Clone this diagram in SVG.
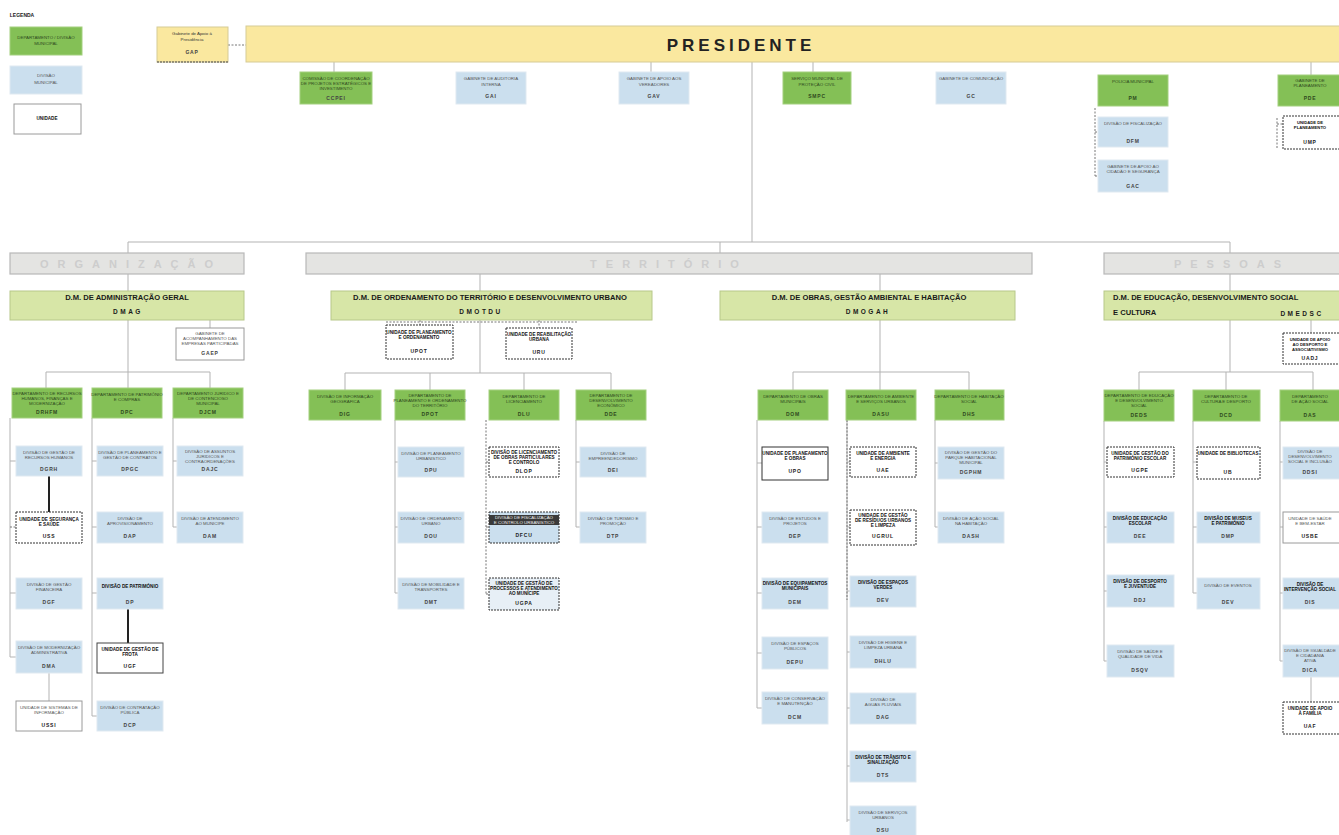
<svg xmlns="http://www.w3.org/2000/svg" width="1339" height="835" viewBox="0 0 1339 835">
<style>
.g{fill:#84c056;stroke:#a3d07e;stroke-width:1}
.b{fill:#cbdfee;stroke:#dfe9f1;stroke-width:1}
.w{fill:#fff;stroke:#9a9a9a;stroke-width:1}
.wd{fill:#fff;stroke:#333;stroke-width:1;stroke-dasharray:2,1}
.y{fill:#fae89f;stroke:#d6cb96;stroke-width:1}
.s{fill:#e4e4e2;stroke:#b8b8b8;stroke-width:1.2}
.d{fill:#d7e6a7;stroke:#b7c88a;stroke-width:1}
text{font-family:"Liberation Sans",Arial,sans-serif;text-anchor:middle}
.t{font-size:4.4px;fill:#555}
.tg{font-size:4.4px;fill:#2f4a20}
.c{font-size:5px;fill:#444;font-weight:bold;letter-spacing:0.8px}
.tb{font-size:4.6px;fill:#111;font-weight:bold}
.sec{font-size:11px;fill:#cdcdcd;font-weight:bold;letter-spacing:9px}
.dt{font-size:7.6px;fill:#1a1a1a;font-weight:bold}
.dc{font-size:6.5px;fill:#1a1a1a;font-weight:bold;letter-spacing:2.5px}
.ln{fill:none;stroke:#b3b3b3;stroke-width:1}
.ld{fill:none;stroke:#777;stroke-width:1;stroke-dasharray:2,1.5}
.lk{fill:none;stroke:#222;stroke-width:2}
</style>

<g id="connectors">
<path class="ld" d="M228 45H246"/>
<path class="ln" d="M334 62V72M651 62V72M813 62V72M1311 62V75M752 62V242"/>
<path class="ld" d="M1095 108V176M1095 132H1098M1095 176H1098M1277 118V148M1277 124H1283"/>
<path class="ln" d="M128 242H1230M128 242V253M720 242V253M1230 242V253"/>
<path class="ln" d="M128 274V291M480 274V291M880 274V291M1230 274V291"/>
<path class="ln" d="M210 320V328M128 320V372M46 372H210M46 372V388M128 372V388M210 372V388"/>
<path class="ln" d="M10 418V657M10 461H16M10 593H16M10 657H16M49 673V701"/>
<path class="ld" d="M10 527H16"/>
<path class="lk" d="M49 476V512M128 609V643"/>
<path class="ln" d="M92 418V716M92 461H97M92 527H97M92 593H97M92 716H97"/>
<path class="ln" d="M173 418V527M173 461H177M173 527H177"/>
<path class="ln" d="M480 320V373M345 373H611M345 373V390M430 373V390M524 373V390M611 373V390"/>
<path class="ld" d="M386 322H578M420 320V325M539 320V328"/>
<path class="ln" d="M395 420V593M395 462H398M395 527H398M395 593H398"/>
<path class="ld" d="M486 420V594M486 462H489M486 527H489M486 594H489"/>
<path class="ln" d="M576 420V527M576 462H580M576 527H580"/>
<path class="ln" d="M880 320V390M793 372H969M793 372V390M969 372V390"/>
<path class="ln" d="M757 420V708M757 463H762M757 527H762M757 593H762M757 653H762M757 708H762"/>
<path class="ln" d="M847 420V822M847 462H850M847 527H850M847 591H850M847 652H850M847 708H850M847 766H850M847 820H850"/>
<path class="ld" d="M847 420V600"/>
<path class="ln" d="M935 420V527M935 463H938M935 527H938"/>
<path class="ln" d="M1230 320V372M1139 372H1313M1139 372V390M1226 372V390M1313 372V390M1311 320V333"/>
<path class="ln" d="M1104 421V661M1104 462H1107M1104 527H1107M1104 591H1107M1104 661H1107"/>
<path class="ln" d="M1193 421V593M1193 462H1197M1193 527H1197M1193 593H1197"/>
<path class="ln" d="M1280 421V661M1280 462H1283M1280 527H1283M1280 593H1283M1280 661H1283M1311 677V702"/>
</g>

<g id="legenda">
<text x="22" y="17" style="font-size:5px;font-weight:bold;fill:#222">LEGENDA</text>
<rect class="g" x="10" y="27" width="72" height="28"/>
<text class="tg" x="46" y="39">DEPARTAMENTO / DIVISÃO</text><text class="tg" x="46" y="45">MUNICIPAL</text>
<rect class="b" x="10" y="66" width="72" height="28"/>
<text class="t" x="46" y="77">DIVISÃO</text><text class="t" x="46" y="84">MUNICIPAL</text>
<rect class="w" x="14" y="104" width="67" height="30"/>
<text class="tb" x="47" y="120">UNIDADE</text>
</g>

<g id="gap">
<rect class="y" x="157" y="27" width="71" height="35"/>
<path d="M157 62H228" stroke="#444" stroke-dasharray="2,1" fill="none"/>
<text class="t" x="192" y="35" style="fill:#333">Gabinete de Apoio à</text>
<text class="t" x="192" y="41" style="fill:#333">Presidência</text>
<text class="c" x="192" y="54">GAP</text>
</g>

<g id="presidente">
<rect class="y" x="246" y="26" width="1100" height="36"/>
<text x="741" y="51" style="font-size:17px;font-weight:bold;fill:#222;letter-spacing:4px">PRESIDENTE</text>
</g>

<g id="r1"><rect class="g" x="300" y="72" width="72" height="32"/><text class="tg" x="336" y="80">COMISSÃO DE COORDENAÇÃO</text><text class="tg" x="336" y="85">DE PROJETOS ESTRATÉGICOS E</text><text class="tg" x="336" y="90">INVESTIMENTO</text><text class="c" x="336" y="100">CCPEI</text></g>
<g id="r2"><rect class="b" x="456" y="72" width="70" height="32"/><text class="t" x="491" y="80">GABINETE DE AUDITORIA</text><text class="t" x="491" y="86">INTERNA</text><text class="c" x="491" y="98">GAI</text></g>
<g id="r3"><rect class="b" x="619" y="72" width="70" height="32"/><text class="t" x="654" y="80">GABINETE DE APOIO AOS</text><text class="t" x="654" y="86">VEREADORES</text><text class="c" x="654" y="98">GAV</text></g>
<g id="r4"><rect class="g" x="783" y="72" width="68" height="32"/><text class="tg" x="817" y="80">SERVIÇO MUNICIPAL DE</text><text class="tg" x="817" y="86">PROTEÇÃO CIVIL</text><text class="c" x="817" y="98" style="fill:#2f4a20">SMPC</text></g>
<g id="r5"><rect class="b" x="936" y="72" width="70" height="32"/><text class="t" x="971" y="80">GABINETE DE COMUNICAÇÃO</text><text class="c" x="971" y="98">GC</text></g>
<g id="r6"><rect class="g" x="1098" y="75" width="70" height="31"/><text class="tg" x="1133" y="83">POLÍCIA MUNICIPAL</text><text class="c" x="1133" y="100" style="fill:#2f4a20">PM</text></g>
<g id="r6a"><rect class="b" x="1098" y="117" width="70" height="30"/><text class="t" x="1133" y="125">DIVISÃO DE FISCALIZAÇÃO</text><text class="c" x="1133" y="143">DFM</text></g>
<g id="r6b"><rect class="b" x="1098" y="160" width="70" height="32"/><text class="t" x="1133" y="168">GABINETE DE APOIO AO</text><text class="t" x="1133" y="173">CIDADÃO E SEGURANÇA</text><text class="c" x="1133" y="188">GAC</text></g>
<g id="r7"><rect class="g" x="1278" y="75" width="70" height="31"/><text class="tg" x="1310" y="82">GABINETE DE</text><text class="tg" x="1310" y="87">PLANEAMENTO</text><text class="c" x="1310" y="100" style="fill:#2f4a20">PDE</text></g>
<g id="r7a"><rect class="wd" x="1283" y="116" width="60" height="33"/><text class="tb" x="1310" y="124" style="font-size:4.2px">UNIDADE DE</text><text class="tb" x="1310" y="129" style="font-size:4.2px">PLANEAMENTO</text><text class="c" x="1310" y="144" style="fill:#222">UMP</text></g>

<g id="sec-organizacao"><rect class="s" x="10" y="253" width="234" height="21"/><text class="sec" x="131" y="268">ORGANIZAÇÃO</text></g>
<g id="sec-territorio"><rect class="s" x="306" y="253" width="726" height="21"/><text class="sec" x="669" y="268">TERRITÓRIO</text></g>
<g id="sec-pessoas"><rect class="s" x="1104" y="253" width="245" height="21"/><text class="sec" x="1232" y="268">PESSOAS</text></g>

<g id="dmag"><rect class="d" x="10" y="291" width="234" height="29"/><text class="dt" x="127" y="300">D.M. DE ADMINISTRAÇÃO GERAL</text><text class="dc" x="128" y="314">DMAG</text></g>
<g id="dmotdu"><rect class="d" x="331" y="291" width="321" height="29"/><text class="dt" x="490" y="300">D.M. DE ORDENAMENTO DO TERRITÓRIO E DESENVOLVIMENTO URBANO</text><text class="dc" x="481" y="314">DMOTDU</text></g>
<g id="dmogah"><rect class="d" x="720" y="291" width="295" height="29"/><text class="dt" x="869" y="300">D.M. DE OBRAS, GESTÃO AMBIENTAL E HABITAÇÃO</text><text class="dc" x="868" y="314">DMOGAH</text></g>
<g id="dmedsc"><rect class="d" x="1104" y="291" width="245" height="29"/><text class="dt" x="1113" y="300" style="text-anchor:start">D.M. DE EDUCAÇÃO, DESENVOLVIMENTO SOCIAL</text><text class="dt" x="1113" y="315" style="text-anchor:start">E CULTURA</text><text class="dc" x="1302" y="316">DMEDSC</text></g>

<g id="gaep"><rect class="w" x="176" y="328" width="68" height="32"/><text class="t" x="210" y="335">GABINETE DE</text><text class="t" x="210" y="340">ACOMPANHAMENTO DAS</text><text class="t" x="210" y="345">EMPRESAS PARTICIPADAS</text><text class="c" x="210" y="355">GAEP</text></g>
<g id="drhfm"><rect class="g" x="12" y="388" width="70" height="30"/><text class="tg" x="47" y="395">DEPARTAMENTO DE RECURSOS</text><text class="tg" x="47" y="400">HUMANOS, FINANÇAS E</text><text class="tg" x="47" y="405">MODERNIZAÇÃO</text><text class="c" x="47" y="414" style="fill:#2f4a20">DRHFM</text></g>
<g id="dpc"><rect class="g" x="92" y="388" width="70" height="30"/><text class="tg" x="127" y="396">DEPARTAMENTO DE PATRIMÓNIO</text><text class="tg" x="127" y="401">E COMPRAS</text><text class="c" x="127" y="414" style="fill:#2f4a20">DPC</text></g>
<g id="djc"><rect class="g" x="173" y="388" width="70" height="30"/><text class="tg" x="208" y="395">DEPARTAMENTO JURÍDICO E</text><text class="tg" x="208" y="400">DE CONTENCIOSO</text><text class="tg" x="208" y="405">MUNICIPAL</text><text class="c" x="208" y="414" style="fill:#2f4a20">DJCM</text></g>
<g id="dgrh"><rect class="b" x="16" y="446" width="66" height="30"/><text class="t" x="49" y="454">DIVISÃO DE GESTÃO DE</text><text class="t" x="49" y="459">RECURSOS HUMANOS</text><text class="c" x="49" y="471">DGRH</text></g>
<g id="usst"><rect class="wd" x="16" y="512" width="66" height="31"/><text class="tb" x="49" y="521">UNIDADE DE SEGURANÇA</text><text class="tb" x="49" y="526">E SAÚDE</text><text class="c" x="49" y="538" style="fill:#222">USS</text></g>
<g id="dgf"><rect class="b" x="16" y="578" width="66" height="31"/><text class="t" x="49" y="586">DIVISÃO DE GESTÃO</text><text class="t" x="49" y="591">FINANCEIRA</text><text class="c" x="49" y="604">DGF</text></g>
<g id="dma"><rect class="b" x="16" y="641" width="66" height="32"/><text class="t" x="49" y="649">DIVISÃO DE MODERNIZAÇÃO</text><text class="t" x="49" y="654">ADMINISTRATIVA</text><text class="c" x="49" y="668">DMA</text></g>
<g id="ussi"><rect class="w" x="16" y="701" width="66" height="30"/><text class="t" x="49" y="709">UNIDADE DE SISTEMAS DE</text><text class="t" x="49" y="714">INFORMAÇÃO</text><text class="c" x="49" y="727" style="fill:#222">USSI</text></g>
<g id="dpgc"><rect class="b" x="97" y="446" width="66" height="30"/><text class="t" x="130" y="454">DIVISÃO DE PLANEAMENTO E</text><text class="t" x="130" y="459">GESTÃO DE CONTRATOS</text><text class="c" x="130" y="471">DPGC</text></g>
<g id="dap"><rect class="b" x="97" y="512" width="66" height="31"/><text class="t" x="130" y="520">DIVISÃO DE</text><text class="t" x="130" y="525">APROVISIONAMENTO</text><text class="c" x="130" y="538">DAP</text></g>
<g id="dp"><rect class="b" x="97" y="578" width="66" height="31"/><text class="tb" x="130" y="588">DIVISÃO DE PATRIMÓNIO</text><text class="c" x="130" y="604">DP</text></g>
<g id="ugf"><rect class="w" x="97" y="643" width="66" height="30" style="stroke:#444"/><text class="tb" x="130" y="651">UNIDADE DE GESTÃO DE</text><text class="tb" x="130" y="656">FROTA</text><text class="c" x="130" y="668" style="fill:#222">UGF</text></g>
<g id="dcp"><rect class="b" x="97" y="701" width="66" height="30"/><text class="t" x="130" y="709">DIVISÃO DE CONTRATAÇÃO</text><text class="t" x="130" y="714">PÚBLICA</text><text class="c" x="130" y="727">DCP</text></g>
<g id="dajc"><rect class="b" x="177" y="446" width="66" height="30"/><text class="t" x="210" y="453">DIVISÃO DE ASSUNTOS</text><text class="t" x="210" y="458">JURÍDICOS E</text><text class="t" x="210" y="463">CONTRAORDENAÇÕES</text><text class="c" x="210" y="471">DAJC</text></g>
<g id="dam"><rect class="b" x="177" y="512" width="66" height="31"/><text class="t" x="210" y="520">DIVISÃO DE ATENDIMENTO</text><text class="t" x="210" y="525">AO MUNÍCIPE</text><text class="c" x="210" y="538">DAM</text></g>

<g id="upot"><rect class="wd" x="386" y="325" width="67" height="34"/><text class="tb" x="419" y="334">UNIDADE DE PLANEAMENTO</text><text class="tb" x="419" y="339">E ORDENAMENTO</text><text class="c" x="419" y="353" style="fill:#222">UPOT</text></g>
<g id="uru"><rect class="wd" x="506" y="328" width="66" height="31"/><text class="tb" x="539" y="336">UNIDADE DE REABILITAÇÃO</text><text class="tb" x="539" y="341">URBANA</text><text class="c" x="539" y="354" style="fill:#222">URU</text></g>
<g id="dig"><rect class="g" x="309" y="390" width="72" height="30"/><text class="tg" x="345" y="398">DIVISÃO DE INFORMAÇÃO</text><text class="tg" x="345" y="403">GEOGRÁFICA</text><text class="c" x="345" y="416" style="fill:#2f4a20">DIG</text></g>
<g id="dpot"><rect class="g" x="395" y="390" width="70" height="30"/><text class="tg" x="430" y="397">DEPARTAMENTO DE</text><text class="tg" x="430" y="402">PLANEAMENTO E ORDENAMENTO</text><text class="tg" x="430" y="407">DO TERRITÓRIO</text><text class="c" x="430" y="416" style="fill:#2f4a20">DPOT</text></g>
<g id="dlu"><rect class="g" x="489" y="390" width="70" height="30"/><text class="tg" x="524" y="398">DEPARTAMENTO DE</text><text class="tg" x="524" y="403">LICENCIAMENTO</text><text class="c" x="524" y="416" style="fill:#2f4a20">DLU</text></g>
<g id="dde"><rect class="g" x="576" y="390" width="70" height="30"/><text class="tg" x="611" y="397">DEPARTAMENTO DE</text><text class="tg" x="611" y="402">DESENVOLVIMENTO</text><text class="tg" x="611" y="407">ECONÓMICO</text><text class="c" x="611" y="416" style="fill:#2f4a20">DDE</text></g>
<g id="dpu"><rect class="b" x="398" y="447" width="66" height="30"/><text class="t" x="431" y="455">DIVISÃO DE PLANEAMENTO</text><text class="t" x="431" y="460">URBANÍSTICO</text><text class="c" x="431" y="472">DPU</text></g>
<g id="dot"><rect class="b" x="398" y="512" width="66" height="31"/><text class="t" x="431" y="520">DIVISÃO DE ORDENAMENTO</text><text class="t" x="431" y="525">URBANO</text><text class="c" x="431" y="538">DOU</text></g>
<g id="dmt"><rect class="b" x="398" y="578" width="66" height="31"/><text class="t" x="431" y="586">DIVISÃO DE MOBILIDADE E</text><text class="t" x="431" y="591">TRANSPORTES</text><text class="c" x="431" y="604">DMT</text></g>
<g id="dlop"><rect class="wd" x="489" y="447" width="70" height="30"/><text class="tb" x="524" y="454">DIVISÃO DE LICENCIAMENTO</text><text class="tb" x="524" y="459">DE OBRAS PARTICULARES</text><text class="tb" x="524" y="464">E CONTROLO</text><text class="c" x="524" y="473" style="fill:#222">DLOP</text></g>
<g id="dfis"><rect class="wd" x="489" y="512" width="70" height="31" style="fill:#cbdfee"/><rect x="489" y="515" width="70" height="10" fill="#3a3a3a"/><text class="t" x="524" y="519" style="fill:#eee">DIVISÃO DE FISCALIZAÇÃO</text><text class="t" x="524" y="524" style="fill:#eee">E CONTROLO URBANÍSTICO</text><text class="c" x="524" y="537" style="fill:#222">DFCU</text></g>
<g id="ugp"><rect class="wd" x="489" y="578" width="70" height="32" style="fill:#e7eff6"/><text class="tb" x="524" y="585">UNIDADE DE GESTÃO DE</text><text class="tb" x="524" y="590">PROCESSOS E ATENDIMENTO</text><text class="tb" x="524" y="595">AO MUNÍCIPE</text><text class="c" x="524" y="605" style="fill:#222">UGPA</text></g>
<g id="dei"><rect class="b" x="580" y="447" width="66" height="30"/><text class="t" x="613" y="455">DIVISÃO DE</text><text class="t" x="613" y="460">EMPREENDEDORISMO</text><text class="c" x="613" y="472">DEI</text></g>
<g id="dt"><rect class="b" x="580" y="512" width="66" height="31"/><text class="t" x="613" y="520">DIVISÃO DE TURISMO E</text><text class="t" x="613" y="525">PROMOÇÃO</text><text class="c" x="613" y="538">DTP</text></g>

<g id="dom"><rect class="g" x="758" y="390" width="70" height="30"/><text class="tg" x="793" y="398">DEPARTAMENTO DE OBRAS</text><text class="tg" x="793" y="403">MUNICIPAIS</text><text class="c" x="793" y="416" style="fill:#2f4a20">DOM</text></g>
<g id="dasu"><rect class="g" x="846" y="390" width="70" height="30"/><text class="tg" x="881" y="398">DEPARTAMENTO DE AMBIENTE</text><text class="tg" x="881" y="403">E SERVIÇOS URBANOS</text><text class="c" x="881" y="416" style="fill:#2f4a20">DASU</text></g>
<g id="dh"><rect class="g" x="935" y="390" width="69" height="30"/><text class="tg" x="969" y="398">DEPARTAMENTO DE HABITAÇÃO</text><text class="tg" x="969" y="403">SOCIAL</text><text class="c" x="969" y="416" style="fill:#2f4a20">DHS</text></g>
<g id="upo"><rect class="w" x="762" y="447" width="66" height="33" style="stroke:#333"/><text class="tb" x="795" y="455">UNIDADE DE PLANEAMENTO</text><text class="tb" x="795" y="460">E OBRAS</text><text class="c" x="795" y="473" style="fill:#222">UPO</text></g>
<g id="dep"><rect class="b" x="762" y="512" width="66" height="31"/><text class="t" x="795" y="520">DIVISÃO DE ESTUDOS E</text><text class="t" x="795" y="525">PROJETOS</text><text class="c" x="795" y="538">DEP</text></g>
<g id="dem"><rect class="b" x="762" y="578" width="66" height="31"/><text class="tb" x="795" y="585">DIVISÃO DE EQUIPAMENTOS</text><text class="tb" x="795" y="590">MUNICIPAIS</text><text class="c" x="795" y="604">DEM</text></g>
<g id="depu"><rect class="b" x="762" y="637" width="66" height="32"/><text class="t" x="795" y="645">DIVISÃO DE ESPAÇOS</text><text class="t" x="795" y="650">PÚBLICOS</text><text class="c" x="795" y="664">DEPU</text></g>
<g id="dcm"><rect class="b" x="762" y="692" width="66" height="32"/><text class="t" x="795" y="700">DIVISÃO DE CONSERVAÇÃO</text><text class="t" x="795" y="705">E MANUTENÇÃO</text><text class="c" x="795" y="719">DCM</text></g>
<g id="uae"><rect class="wd" x="850" y="447" width="66" height="30"/><text class="tb" x="883" y="455">UNIDADE DE AMBIENTE</text><text class="tb" x="883" y="460">E ENERGIA</text><text class="c" x="883" y="472" style="fill:#222">UAE</text></g>
<g id="ugru"><rect class="wd" x="850" y="510" width="66" height="35"/><text class="tb" x="883" y="517">UNIDADE DE GESTÃO</text><text class="tb" x="883" y="522">DE RESÍDUOS URBANOS</text><text class="tb" x="883" y="527">E LIMPEZA</text><text class="c" x="883" y="538" style="fill:#222">UGRUL</text></g>
<g id="dev"><rect class="b" x="850" y="576" width="66" height="31"/><text class="tb" x="883" y="584">DIVISÃO DE ESPAÇOS</text><text class="tb" x="883" y="589">VERDES</text><text class="c" x="883" y="602">DEV</text></g>
<g id="dhu"><rect class="b" x="850" y="636" width="66" height="32"/><text class="t" x="883" y="644">DIVISÃO DE HIGIENE E</text><text class="t" x="883" y="649">LIMPEZA URBANA</text><text class="c" x="883" y="663">DHLU</text></g>
<g id="dag"><rect class="b" x="850" y="693" width="66" height="31"/><text class="t" x="883" y="701">DIVISÃO DE</text><text class="t" x="883" y="706">ÁGUAS PLUVIAIS</text><text class="c" x="883" y="719">DAG</text></g>
<g id="dtr"><rect class="b" x="850" y="751" width="66" height="31"/><text class="tb" x="883" y="759">DIVISÃO DE TRÂNSITO E</text><text class="tb" x="883" y="764">SINALIZAÇÃO</text><text class="c" x="883" y="777">DTS</text></g>
<g id="dsu"><rect class="b" x="850" y="806" width="66" height="32"/><text class="t" x="883" y="814">DIVISÃO DE SERVIÇOS</text><text class="t" x="883" y="819">URBANOS</text><text class="c" x="883" y="832">DSU</text></g>
<g id="dgph"><rect class="b" x="938" y="447" width="66" height="32"/><text class="t" x="971" y="454">DIVISÃO DE GESTÃO DO</text><text class="t" x="971" y="459">PARQUE HABITACIONAL</text><text class="t" x="971" y="464">MUNICIPAL</text><text class="c" x="971" y="474">DGPHM</text></g>
<g id="dash"><rect class="b" x="938" y="512" width="66" height="31"/><text class="t" x="971" y="520">DIVISÃO DE AÇÃO SOCIAL</text><text class="t" x="971" y="525">NA HABITAÇÃO</text><text class="c" x="971" y="538">DASH</text></g>

<g id="uad"><rect class="wd" x="1283" y="333" width="60" height="31"/><text class="tb" x="1310" y="341" style="font-size:4.2px">UNIDADE DE APOIO</text><text class="tb" x="1310" y="346" style="font-size:4.2px">AO DESPORTO E</text><text class="tb" x="1310" y="351" style="font-size:4.2px">ASSOCIATIVISMO</text><text class="c" x="1310" y="360" style="fill:#222">UADJ</text></g>
<g id="de"><rect class="g" x="1104" y="390" width="70" height="31"/><text class="tg" x="1139" y="397">DEPARTAMENTO DE EDUCAÇÃO</text><text class="tg" x="1139" y="402">E DESENVOLVIMENTO</text><text class="tg" x="1139" y="407">SOCIAL</text><text class="c" x="1139" y="417" style="fill:#2f4a20">DEDS</text></g>
<g id="dc"><rect class="g" x="1193" y="390" width="67" height="31"/><text class="tg" x="1226" y="398">DEPARTAMENTO DE</text><text class="tg" x="1226" y="403">CULTURA E DESPORTO</text><text class="c" x="1226" y="417" style="fill:#2f4a20">DCD</text></g>
<g id="das"><rect class="g" x="1280" y="390" width="69" height="31"/><text class="tg" x="1310" y="398">DEPARTAMENTO</text><text class="tg" x="1310" y="403">DE AÇÃO SOCIAL</text><text class="c" x="1310" y="417" style="fill:#2f4a20">DAS</text></g>
<g id="dgpe"><rect class="wd" x="1107" y="447" width="67" height="30"/><text class="tb" x="1140" y="455">UNIDADE DE GESTÃO DO</text><text class="tb" x="1140" y="460">PATRIMÓNIO ESCOLAR</text><text class="c" x="1140" y="472" style="fill:#222">UGPE</text></g>
<g id="ded"><rect class="b" x="1107" y="512" width="67" height="31"/><text class="tb" x="1140" y="520">DIVISÃO DE EDUCAÇÃO</text><text class="tb" x="1140" y="525">ESCOLAR</text><text class="c" x="1140" y="538">DEE</text></g>
<g id="dds"><rect class="b" x="1107" y="575" width="67" height="32"/><text class="tb" x="1140" y="583">DIVISÃO DE DESPORTO</text><text class="tb" x="1140" y="588">E JUVENTUDE</text><text class="c" x="1140" y="602">DDJ</text></g>
<g id="dj"><rect class="b" x="1107" y="645" width="67" height="32"/><text class="t" x="1140" y="653">DIVISÃO DE SAÚDE E</text><text class="t" x="1140" y="658">QUALIDADE DE VIDA</text><text class="c" x="1140" y="672">DSQV</text></g>
<g id="ub"><rect class="wd" x="1197" y="447" width="63" height="32"/><text class="tb" x="1228" y="455">UNIDADE DE BIBLIOTECAS</text><text class="c" x="1228" y="474" style="fill:#222">UB</text></g>
<g id="dmp"><rect class="b" x="1197" y="512" width="63" height="31"/><text class="tb" x="1228" y="520">DIVISÃO DE MUSEUS</text><text class="tb" x="1228" y="525">E PATRIMÓNIO</text><text class="c" x="1228" y="538">DMP</text></g>
<g id="dev2"><rect class="b" x="1197" y="578" width="63" height="31"/><text class="t" x="1228" y="587">DIVISÃO DE EVENTOS</text><text class="c" x="1228" y="604">DEV</text></g>
<g id="ddsoc"><rect class="b" x="1283" y="447" width="60" height="32"/><text class="t" x="1310" y="453">DIVISÃO DE</text><text class="t" x="1310" y="458">DESENVOLVIMENTO</text><text class="t" x="1310" y="463">SOCIAL E INCLUSÃO</text><text class="c" x="1310" y="474">DDSI</text></g>
<g id="us"><rect class="w" x="1283" y="512" width="60" height="31"/><text class="t" x="1310" y="520">UNIDADE DE SAÚDE</text><text class="t" x="1310" y="525">E BEM-ESTAR</text><text class="c" x="1310" y="538" style="fill:#222">USBE</text></g>
<g id="dis"><rect class="b" x="1283" y="578" width="60" height="31"/><text class="tb" x="1310" y="586">DIVISÃO DE</text><text class="tb" x="1310" y="591">INTERVENÇÃO SOCIAL</text><text class="c" x="1310" y="604">DIS</text></g>
<g id="dic"><rect class="b" x="1283" y="645" width="60" height="32"/><text class="t" x="1310" y="652">DIVISÃO DE IGUALDADE</text><text class="t" x="1310" y="657">E CIDADANIA</text><text class="t" x="1310" y="662">ATIVA</text><text class="c" x="1310" y="672">DICA</text></g>
<g id="ui"><rect class="wd" x="1283" y="702" width="60" height="32"/><text class="tb" x="1310" y="710">UNIDADE DE APOIO</text><text class="tb" x="1310" y="715">À FAMÍLIA</text><text class="c" x="1310" y="728" style="fill:#222">UAF</text></g>
</svg>
